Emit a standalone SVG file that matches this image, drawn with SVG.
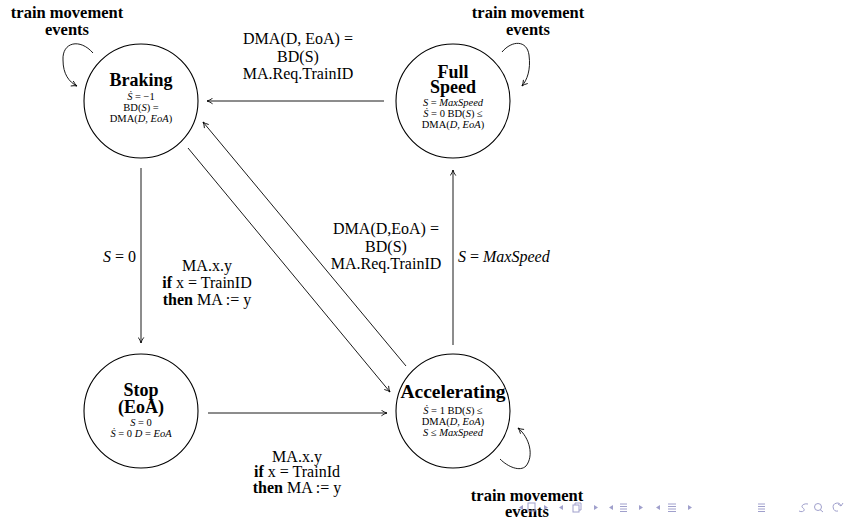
<svg xmlns="http://www.w3.org/2000/svg" width="846" height="519" viewBox="0 0 846 519">
<style>
.node{fill:#fff;stroke:#000;stroke-width:1.1}
.title{font-family:"Liberation Serif",serif;font-weight:bold;font-size:18px;text-anchor:middle}
.sub{font-family:"Liberation Serif",serif;font-size:10.5px;text-anchor:middle}
.lbl{font-family:"Liberation Serif",serif;font-size:16px;text-anchor:middle}
.loopl{font-family:"Liberation Serif",serif;font-weight:bold;font-size:16.5px;text-anchor:middle}
.i{font-style:italic}
.b{font-weight:bold}
.edge{fill:none;stroke:#000;stroke-width:0.9;marker-end:url(#arr)}
.nav{fill:none;stroke:#a0a0cc;stroke-width:1}
.navf{fill:#a0a0cc}
</style>
<defs>
<marker id="arr" viewBox="0 0 10 10" refX="9" refY="5" markerWidth="7" markerHeight="7" orient="auto" markerUnits="userSpaceOnUse">
<path d="M1,1 Q5,4 9,5 Q5,6 1,9" fill="none" stroke="#000" stroke-width="1.2"/>
</marker>
</defs>
<g id="connectors">
<path class="edge" d="M384,101 L207,101"/>
<path class="edge" d="M141,168 L141,343"/>
<path class="edge" d="M208,413 L387,413"/>
<path class="edge" d="M188,148 L390,392"/>
<path class="edge" d="M406,366 L203,122"/>
<path class="edge" d="M453,345 L453,170"/>
<path class="edge" d="M93,53 C80,38 62,42 63,60 C63,74 69,82 77,86"/>
<path class="edge" d="M502,52 C512,40 527,40 529,55 C531,70 527,80 522,86"/>
<path class="edge" d="M500,459 C508,467 520,472 526,466 C534,456 530,438 518,428"/>
</g>
<g id="braking">
<circle class="node" cx="141" cy="101" r="57"/>
<text class="title" x="141" y="86">Braking</text>
<text class="sub" x="141" y="100"><tspan class="i">Ṡ</tspan>  =  −1</text>
<text class="sub" x="141" y="111">BD(<tspan class="i">S</tspan>) =</text>
<text class="sub" x="141" y="122">DMA(<tspan class="i">D, EoA</tspan>)</text>
</g>
<g id="fullspeed">
<circle class="node" cx="453" cy="101" r="57"/>
<text class="title" x="453" y="78">Full</text>
<text class="title" x="453" y="93">Speed</text>
<text class="sub" x="453" y="106"><tspan class="i">S</tspan> = <tspan class="i">MaxSpeed</tspan></text>
<text class="sub" x="453" y="117"><tspan class="i">Ṡ</tspan> = 0 BD(<tspan class="i">S</tspan>) ≤</text>
<text class="sub" x="453" y="128">DMA(<tspan class="i">D, EoA</tspan>)</text>
</g>
<g id="stop">
<circle class="node" cx="141" cy="411" r="57"/>
<text class="title" x="141" y="396">Stop</text>
<text class="title" x="141" y="413">(EoA)</text>
<text class="sub" x="141" y="426"><tspan class="i">S</tspan>  =  0</text>
<text class="sub" x="141" y="437"><tspan class="i">Ṡ</tspan> = 0 <tspan class="i">D</tspan> = <tspan class="i">EoA</tspan></text>
</g>
<g id="accelerating">
<circle class="node" cx="453" cy="411" r="57"/>
<text class="title" x="453" y="398" style="font-size:19.5px">Accelerating</text>
<text class="sub" x="453" y="414"><tspan class="i">Ṡ</tspan> = 1 BD(<tspan class="i">S</tspan>) ≤</text>
<text class="sub" x="453" y="425">DMA(<tspan class="i">D, EoA</tspan>)</text>
<text class="sub" x="453" y="436"><tspan class="i">S</tspan> ≤ <tspan class="i">MaxSpeed</tspan></text>
</g>
<g id="labels">
<text class="lbl" x="298" y="44">DMA(D, EoA) =</text>
<text class="lbl" x="298" y="62">BD(S)</text>
<text class="lbl" x="298" y="79">MA.Req.TrainID</text>
<text class="lbl" x="386" y="234">DMA(D,EoA) =</text>
<text class="lbl" x="386" y="252">BD(S)</text>
<text class="lbl" x="386" y="269">MA.Req.TrainID</text>
<text class="lbl" x="458" y="262" style="text-anchor:start"><tspan class="i">S</tspan> = <tspan class="i">MaxSpeed</tspan></text>
<text class="lbl" x="136" y="262" style="text-anchor:end"><tspan class="i">S</tspan> = 0</text>
<text class="lbl" x="207" y="271">MA.x.y</text>
<text class="lbl" x="207" y="288"><tspan class="b">if</tspan> x = TrainID</text>
<text class="lbl" x="207" y="305"><tspan class="b">then</tspan> MA := y</text>
<text class="lbl" x="297" y="462">MA.x.y</text>
<text class="lbl" x="297" y="477"><tspan class="b">if</tspan> x = TrainId</text>
<text class="lbl" x="297" y="493"><tspan class="b">then</tspan> MA := y</text>
<text class="loopl" x="67" y="18">train movement</text>
<text class="loopl" x="67" y="35">events</text>
<text class="loopl" x="528" y="18">train movement</text>
<text class="loopl" x="528" y="35">events</text>
<text class="loopl" x="527" y="501">train movement</text>
<text class="loopl" x="527" y="517">events</text>
</g>
<g id="navigation">
<path class="navf" d="M523,505 L519,507.5 L523,510 Z"/>
<rect class="nav" x="528" y="503" width="7" height="8"/>
<path class="navf" d="M544,505 L548,507.5 L544,510 Z"/>
<path class="navf" d="M563,505 L559,507.5 L563,510 Z"/>
<rect class="nav" x="573" y="505" width="6" height="7"/>
<path class="nav" d="M575,505 V503 H581 V510 H579"/>
<path class="navf" d="M594,505 L598,507.5 L594,510 Z"/>
<path class="navf" d="M613,505 L609,507.5 L613,510 Z"/>
<path class="nav" d="M620,504 H627 M620,506.5 H627 M620,509 H627 M620,511.5 H627"/>
<path class="navf" d="M639,505 L643,507.5 L639,510 Z"/>
<path class="navf" d="M660,505 L656,507.5 L660,510 Z"/>
<path class="nav" d="M668,504 H676 M668,506.5 H676 M668,509 H676 M668,511.5 H676"/>
<path class="navf" d="M688,505 L692,507.5 L688,510 Z"/>
<path class="nav" d="M758,504 H765 M758,506.5 H765 M758,509 H765 M758,511.5 H765"/>
<path class="nav" d="M808,504 C804,503 800,506 803,508 C806,510 803,513 799,511"/>
<circle class="nav" cx="818" cy="507" r="3.5"/>
<path class="nav" d="M820,509.5 L823,512"/>
<path class="nav" d="M841,506 A4,4 0 1 0 838,511"/>
<path class="nav" d="M838,504 L841,506 L843,503"/>
</g>
</svg>
